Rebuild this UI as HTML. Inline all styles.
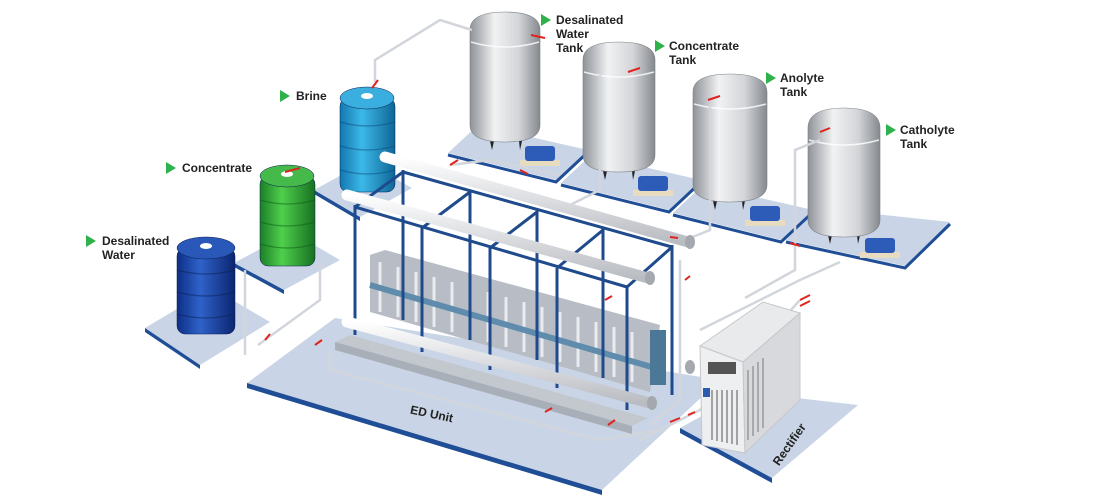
<!DOCTYPE html>
<html><head><meta charset="utf-8"><style>
html,body{margin:0;padding:0;background:#fff;}
svg{display:block;}
text{font-family:"Liberation Sans",sans-serif;font-weight:bold;fill:#222;}
</style></head><body>
<svg width="1100" height="500" viewBox="0 0 1100 500" xmlns="http://www.w3.org/2000/svg">
<defs>
<linearGradient id="steel" x1="0" x2="1"><stop offset="0" stop-color="#8e9297"/><stop offset="0.35" stop-color="#f1f2f3"/><stop offset="0.7" stop-color="#d2d4d7"/><stop offset="1" stop-color="#85898e"/></linearGradient>
<linearGradient id="blue" x1="0" x2="1"><stop offset="0" stop-color="#0d2f86"/><stop offset="0.4" stop-color="#2f62c9"/><stop offset="1" stop-color="#0b2570"/></linearGradient>
<linearGradient id="green" x1="0" x2="1"><stop offset="0" stop-color="#1b7f28"/><stop offset="0.4" stop-color="#4fcf4c"/><stop offset="1" stop-color="#177021"/></linearGradient>
<linearGradient id="cyan" x1="0" x2="1"><stop offset="0" stop-color="#1377b0"/><stop offset="0.4" stop-color="#3cb8e8"/><stop offset="1" stop-color="#0f6696"/></linearGradient>
<linearGradient id="pipe" x1="0" y1="0" x2="0" y2="1"><stop offset="0" stop-color="#fff"/><stop offset="1" stop-color="#b9bcc2"/></linearGradient>
</defs>
<g fill="#c9d5e6">
<polygon points="247,383 335,318 720,380 602,490"/>
<polygon points="247,383 602,490 602,495 247,388" fill="#1f4e96"/>
<polygon points="680,428 745,392 858,405 772,478"/>
<polygon points="680,428 772,478 772,483 680,433" fill="#1f4e96"/>
<polygon points="145,328 212,288 270,322 200,365"/>
<polygon points="145,328 200,365 200,369 145,332" fill="#1f4e96"/>
<polygon points="234,263 292,232 340,260 284,290"/>
<polygon points="234,263 284,290 284,294 234,267" fill="#1f4e96"/>
<polygon points="314,190 365,162 412,188 360,217"/>
<polygon points="314,190 360,217 360,221 314,194" fill="#1f4e96"/>
<polygon points="448,153 478,125 588,150 556,180"/>
<polygon points="561,183 591,155 701,180 669,210"/>
<polygon points="673,213 703,185 813,210 781,240"/>
<polygon points="786,240 818,208 950,222 905,266"/>
<g stroke="#1f4e96" stroke-width="3" fill="none">
<path d="M448,155 L556,182 L588,152"/><path d="M561,185 L669,212 L701,182"/><path d="M673,215 L781,242 L813,212"/><path d="M786,242 L905,268 L950,224"/>
</g>
</g>
<g stroke="#0a1f55" stroke-width="0.5">
<rect x="177" y="248" width="58" height="86" rx="8" fill="url(#blue)"/>
<ellipse cx="206" cy="248" rx="29" ry="11" fill="#2a58b8"/>
<rect x="260" y="176" width="55" height="90" rx="8" fill="url(#green)"/>
<ellipse cx="287" cy="176" rx="27" ry="11" fill="#45b94a"/>
<rect x="340" y="98" width="55" height="94" rx="8" fill="url(#cyan)"/>
<ellipse cx="367" cy="98" rx="27" ry="11" fill="#3aaede"/>
</g>
<g stroke-width="1.2" fill="none" opacity="0.5">
<path d="M177,270 Q206,278 235,270 M177,292 Q206,300 235,292 M177,314 Q206,322 235,314" stroke="#0a1f55"/>
<path d="M260,200 Q287,208 315,200 M260,222 Q287,230 315,222 M260,244 Q287,252 315,244" stroke="#0d5a16"/>
<path d="M340,122 Q367,130 395,122 M340,146 Q367,154 395,146 M340,170 Q367,178 395,170" stroke="#0a4a78"/>
</g>
<g fill="#fff"><ellipse cx="206" cy="246" rx="6" ry="3"/><ellipse cx="287" cy="174" rx="6" ry="3"/><ellipse cx="367" cy="96" rx="6" ry="3"/></g>
<g fill="#222"><path d="M488,132 L492,150 L496,132 Z M518,132 L520,150 L524,132 Z"/><path d="M601,162 L605,180 L609,162 Z M631,162 L633,180 L637,162 Z"/><path d="M711,192 L715,210 L719,192 Z M741,192 L743,210 L747,192 Z"/><path d="M826,226 L830,244 L834,226 Z M856,226 L858,244 L862,226 Z"/></g>
<g stroke="#7d8186" stroke-width="0.6">
<path d="M470,30 Q470,12 505,12 Q540,12 540,30 L540,125 Q540,142 505,142 Q470,142 470,125 Z" fill="url(#steel)"/>
<path d="M583,60 Q583,42 619,42 Q655,42 655,60 L655,155 Q655,172 619,172 Q583,172 583,155 Z" fill="url(#steel)"/>
<path d="M693,92 Q693,74 730,74 Q767,74 767,92 L767,185 Q767,202 730,202 Q693,202 693,185 Z" fill="url(#steel)"/>
<path d="M808,128 Q808,108 844,108 Q880,108 880,128 L880,220 Q880,237 844,237 Q808,237 808,220 Z" fill="url(#steel)"/>
</g>
<g fill="none" stroke="#fff" stroke-width="1.5" opacity="0.8">
<path d="M471,42 Q505,52 539,42"/><path d="M584,72 Q619,82 654,72"/><path d="M694,104 Q730,114 766,104"/><path d="M809,140 Q844,150 879,140"/>
</g>
<g fill="#e8dcc0"><rect x="520" y="160" width="40" height="6"/><rect x="633" y="190" width="40" height="6"/><rect x="745" y="220" width="40" height="6"/><rect x="860" y="252" width="40" height="6"/></g>
<g fill="#2d5bb8"><rect x="525" y="146" width="30" height="15" rx="3"/><rect x="638" y="176" width="30" height="15" rx="3"/><rect x="750" y="206" width="30" height="15" rx="3"/><rect x="865" y="238" width="30" height="15" rx="3"/></g>
<g fill="none" stroke="#d2d6dc" stroke-width="2.5">
<path d="M375,82 L375,60 L440,20 L472,30"/>
<path d="M450,165 L490,160 L560,175"/>
<path d="M600,75 L600,190 L570,205"/>
<path d="M710,105 L710,230 L690,238"/>
<path d="M820,140 L795,150 L795,270 L745,298"/>
<path d="M320,262 L320,300 L258,345"/>
<path d="M245,270 L245,355"/>
<path d="M680,260 L680,400 L650,425"/>
<path d="M640,440 L700,410 L800,300"/>
<path d="M330,350 L330,370 L600,440 L660,430"/>
<path d="M700,330 L800,280 L840,262"/>
</g>
<g>
<polygon points="335,342 350,335 648,418 632,426" fill="#c3c8cf"/>
<polygon points="335,342 632,426 632,434 335,350" fill="#a9afb8"/>
<polygon points="370,255 385,250 660,325 650,392 370,312" fill="#b8bdc5"/>
<g stroke="#e9ecef" stroke-width="3">
<path d="M380,262 L380,312 M398,267 L398,317 M416,272 L416,322 M434,277 L434,327 M452,282 L452,332 M470,287 L470,337 M488,292 L488,342 M506,297 L506,347 M524,302 L524,352 M542,307 L542,357 M560,312 L560,362 M578,317 L578,367 M596,322 L596,372 M614,327 L614,377 M632,332 L632,382"/>
</g>
<path d="M370,285 L655,368" stroke="#5f8cad" stroke-width="6"/>
<rect x="650" y="330" width="16" height="55" fill="#4a7896"/>
<g stroke="#1f4a8c" stroke-width="3" fill="none">
<path d="M403,170 L403,320 M470,190 L470,340 M537,210 L537,360 M603,228 L603,378 M672,245 L672,395"/>
<path d="M403,172 L672,247"/>
<path d="M355,205 L355,335 M422,228 L422,352 M490,248 L490,370 M557,268 L557,388 M627,285 L627,410"/>
<path d="M355,207 L627,287"/>
<path d="M355,207 L403,172 M422,228 L470,192 M490,248 L537,212 M557,268 L603,230 M627,287 L672,247"/>
</g>
<g stroke="url(#pipe)" stroke-width="11" stroke-linecap="round" fill="none">
<path d="M385,157 L688,242"/>
<path d="M347,195 L648,278"/>
<path d="M347,322 L650,403"/>
</g>
<g fill="#a5a9af"><ellipse cx="690" cy="242" rx="5" ry="7"/><ellipse cx="650" cy="278" rx="5" ry="7"/><ellipse cx="652" cy="403" rx="5" ry="7"/><ellipse cx="690" cy="367" rx="5" ry="7"/></g>
</g>
<polygon points="700,346 763,302 800,313 743,362" fill="#e9eaec" stroke="#c5c7ca"/>
<polygon points="700,346 743,362 745,453 702,445" fill="#eeeff1" stroke="#c5c7ca"/>
<polygon points="743,362 800,313 800,400 745,453" fill="#d7d9dc" stroke="#c5c7ca"/>
<rect x="708" y="362" width="28" height="12" fill="#555"/>
<rect x="703" y="388" width="7" height="9" fill="#2a5bb0"/>
<g stroke="#888" stroke-width="1.5"><path d="M712,390 L712,440 M717,390 L717,441 M722,390 L722,442 M727,390 L727,443 M732,390 L732,444 M737,390 L737,445"/></g>
<g stroke="#999" stroke-width="1.5"><path d="M748,370 L748,440 M753,366 L753,436 M758,362 L758,432 M763,358 L763,428"/></g>
<g stroke="#e0231f" stroke-width="2">
<path d="M531,35 L545,38"/><path d="M628,72 L640,68"/><path d="M708,100 L720,96"/><path d="M820,132 L830,128"/>
<path d="M372,88 L378,80"/><path d="M285,172 L300,168"/><path d="M265,340 L270,334"/><path d="M315,345 L322,340"/>
<path d="M800,300 L810,295"/><path d="M800,306 L810,301"/><path d="M670,422 L680,418"/><path d="M688,415 L695,412"/>
<path d="M545,412 L552,408"/><path d="M608,425 L615,420"/><path d="M605,300 L612,296"/><path d="M685,280 L690,276"/>
<path d="M450,165 L458,160"/><path d="M520,170 L528,174"/><path d="M670,237 L678,238"/><path d="M790,243 L800,246"/>
</g>
<g fill="#2fb24c">
<polygon points="541,14 541,26 551,20"/><polygon points="655,40 655,52 665,46"/><polygon points="766,72 766,84 776,78"/><polygon points="886,124 886,136 896,130"/>
<polygon points="280,90 280,102 290,96"/><polygon points="166,162 166,174 176,168"/><polygon points="86,235 86,247 96,241"/>
</g>
<g font-size="12">
<text x="556" y="24">Desalinated</text><text x="556" y="38">Water</text><text x="556" y="52">Tank</text>
<text x="669" y="50">Concentrate</text><text x="669" y="64">Tank</text>
<text x="780" y="82">Anolyte</text><text x="780" y="96">Tank</text>
<text x="900" y="134">Catholyte</text><text x="900" y="148">Tank</text>
<text x="296" y="100">Brine</text>
<text x="182" y="172">Concentrate</text>
<text x="102" y="245">Desalinated</text><text x="102" y="259">Water</text>
<text x="410" y="418" transform="rotate(12 432 414)">ED Unit</text>
<text x="762" y="446" transform="rotate(-55 790 440)">Rectifier</text>
</g>
</svg>
</body></html>
